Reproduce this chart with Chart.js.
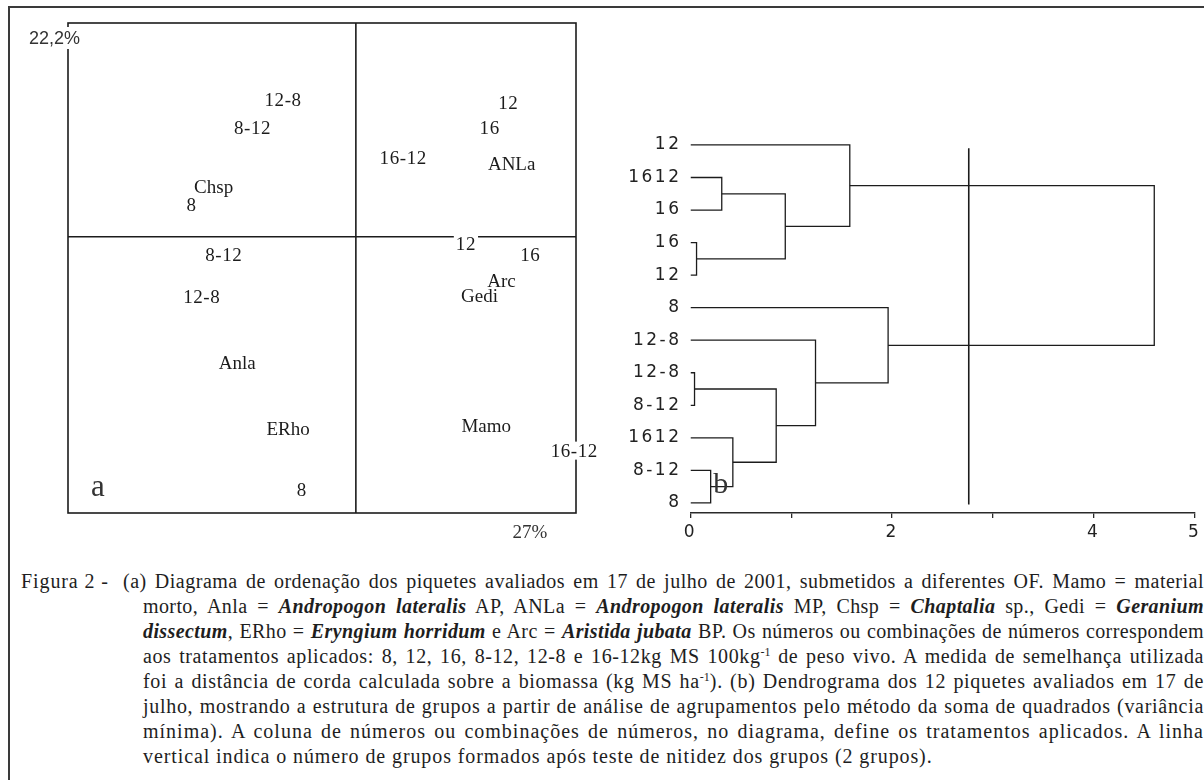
<!DOCTYPE html>
<html>
<head>
<meta charset="utf-8">
<title>Figura 2</title>
<script src="https://cdn.jsdelivr.net/npm/chart.js@4.4.1/dist/chart.umd.min.js"></script>
<style>
	html, body { margin: 0; padding: 0; background: #fff; }
	body { width: 1204px; height: 780px; overflow: hidden; position: relative; }
	#frame { position: absolute; left: 8px; top: 6px; width: 1400px; height: 1000px; border-top: 2px solid #3a3a3a; border-left: 2px solid #3a3a3a; }
	#ordination { position: absolute; left: 0; top: 0; }
	#dendrogram { position: absolute; left: 600px; top: 100px; }
	#caption { position: absolute; left: 21px; top: 569px; width: 1183px; font-family: 'Liberation Serif', 'Times New Roman', serif; font-size: 20px; line-height: 25px; color: #1e1e1e; }
	#caption .l { white-space: nowrap; text-align: justify; text-align-last: justify; padding-left: 122px; overflow: hidden; }
	#caption .first { padding-left: 102px; position: relative; }
	#caption .last { text-align-last: left; }
	#caption .lead { position: absolute; left: 0; letter-spacing: 0.9px; }
	#caption sup { font-size: 12px; line-height: 0; vertical-align: 7px; letter-spacing: 0; }
</style>
</head>
<body>
<div id="frame"></div>
<canvas id="ordination" width="620" height="560"></canvas>
<canvas id="dendrogram" width="604" height="460"></canvas>
<div id="caption">
	<div class="l first" data-spacing="0.5"><span class="lead">Figura 2 - </span>(a) Diagrama de ordenação dos piquetes avaliados em 17 de julho de 2001, submetidos a diferentes OF. Mamo = material</div>
	<div class="l" data-spacing="0.4">morto, Anla = <b><i>Andropogon lateralis</i></b> AP, ANLa = <b><i>Andropogon lateralis</i></b> MP, Chsp = <b><i>Chaptalia</i></b> sp., Gedi = <b><i>Geranium</i></b></div>
	<div class="l" data-spacing="0.4"><b><i>dissectum</i></b>, ERho = <b><i>Eryngium horridum</i></b> e Arc = <b><i>Aristida jubata</i></b> BP. Os números ou combinações de números correspondem</div>
	<div class="l" data-spacing="0.6">aos tratamentos aplicados: 8, 12, 16, 8-12, 12-8 e 16-12kg MS 100kg<sup>-1</sup> de peso vivo. A medida de semelhança utilizada</div>
	<div class="l" data-spacing="0.7">foi a distância de corda calculada sobre a biomassa (kg MS ha<sup>-1</sup>). (b) Dendrograma dos 12 piquetes avaliados em 17 de</div>
	<div class="l" data-spacing="0.7">julho, mostrando a estrutura de grupos a partir de análise de agrupamentos pelo método da soma de quadrados (variância</div>
	<div class="l" data-spacing="1.0">mínima). A coluna de números ou combinações de números, no diagrama, define os tratamentos aplicados. A linha</div>
	<div class="l last" data-spacing="0.9">vertical indica o número de grupos formados após teste de nitidez dos grupos (2 grupos).</div>
</div>
<script>
//                                           //
// - - - - - Panel a: ordination data - - - - - //
//                                           //

const sampleLabels = ['12-8', '8-12', '8', '8-12', '12-8', '8', '12', '16', '16-12', '12', '16', '16-12'];
const sampleX = [-0.43, -0.61, -0.97, -0.78, -0.91, -0.32, 0.90, 0.79, 0.28, 0.65, 1.03, 1.29];
const sampleY = [0.77, 0.61, 0.18, -0.10, -0.34, -1.42, 0.75, 0.61, 0.44, -0.04, -0.10, -1.20];

const speciesLabels = ['Chsp', 'Anla', 'ERho', 'ANLa', 'Gedi', 'Arc', 'Mamo'];
const speciesX = [-0.84, -0.70, -0.40, 0.92, 0.73, 0.86, 0.77];
const speciesY = [0.28, -0.71, -1.08, 0.41, -0.33, -0.25, -1.06];

const axisLabels = ['27%', '22,2%'];

//                                             //
// - - - - - Panel b: dendrogram data - - - - - //
//                                             //

const leafLabels = ['12', '1612', '16', '16', '12', '8', '12-8', '12-8', '8-12', '1612', '8-12', '8'];
// each merge joins two nodes (leaves 0-11, then merges 12, 13, ...)
const mergeLeft = [7, 3, 10, 1, 9, 12, 15, 6, 0, 5, 20];
const mergeRight = [8, 4, 11, 2, 14, 16, 13, 17, 18, 19, 21];
const mergeHeight = [0.04, 0.06, 0.20, 0.31, 0.42, 0.85, 0.94, 1.24, 1.58, 1.96, 4.60];
const cutHeight = 2.76;
const cutSpan = [1.1, 12.05];
const distanceTicks = [0, 1, 2, 3, 4, 5];
const distanceLabels = ['0', '', '2', '', '4', '5'];

const ink = '#1c1c1c';

// - - - - - caption: stretch letters a little, but never past the edge - - - - - //

function fitCaption() {
	document.querySelectorAll('#caption .l').forEach((line) => {
		let s = parseFloat(line.dataset.spacing);
		line.style.letterSpacing = s + 'px';
		while (s > -0.4 && line.scrollWidth > line.clientWidth) {
			s -= 0.05;
			line.style.letterSpacing = s.toFixed(2) + 'px';
		}
	});
}
fitCaption();
if (document.fonts) document.fonts.ready.then(fitCaption);

// - - - - - plugins - - - - - //

const pointText = {
	id: 'pointText',
	afterDatasetsDraw(chart) {
		const ctx = chart.ctx;
		chart.data.datasets.forEach((ds, i) => {
			if (!ds.texts) return;
			const meta = chart.getDatasetMeta(i);
			ctx.save();
			ctx.font = ds.textFont;
			ctx.letterSpacing = ds.textSpacing;
			ctx.textAlign = 'center';
			ctx.textBaseline = 'middle';
			meta.data.forEach((pt, j) => {
				const w = ctx.measureText(ds.texts[j]).width;
				ctx.fillStyle = '#fff';
				ctx.fillRect(pt.x - w / 2 - 2, pt.y - ds.textBox / 2, w + 4, ds.textBox);
				ctx.fillStyle = ink;
				ctx.fillText(ds.texts[j], pt.x, pt.y + 1);
			});
			ctx.restore();
		});
	}
};

const quadrants = {
	id: 'quadrants',
	beforeDatasetsDraw(chart) {
		const { ctx, chartArea: a, scales: { x, y } } = chart;
		const x0 = x.getPixelForValue(0);
		const y0 = y.getPixelForValue(0);
		ctx.save();
		ctx.strokeStyle = ink;
		ctx.lineWidth = 1.6;
		ctx.strokeRect(a.left, a.top, a.width, a.height);
		ctx.beginPath();
		ctx.moveTo(x0, a.top);
		ctx.lineTo(x0, a.bottom);
		ctx.moveTo(a.left, y0);
		ctx.lineTo(a.right, y0);
		ctx.stroke();

		ctx.textBaseline = 'middle';
		ctx.font = '18px "Liberation Sans"';
		ctx.textAlign = 'right';
		const w = ctx.measureText(axisLabels[1]).width;
		ctx.fillStyle = '#fff';
		ctx.fillRect(a.left + 13 - w, a.top + 4, w, 22);
		ctx.fillStyle = '#333';
		ctx.fillText(axisLabels[1], a.left + 12, a.top + 16);

		ctx.font = '19px "Liberation Serif"';
		ctx.textAlign = 'center';
		ctx.fillText(axisLabels[0], a.right - 46, a.bottom + 20);

		ctx.font = '31px "Liberation Serif"';
		ctx.fillText('a', a.left + 30, a.bottom - 25);
		ctx.restore();
	}
};

const wideText = {
	id: 'wideText',
	beforeDraw(chart) { chart.ctx.letterSpacing = '2.5px'; },
	afterDatasetsDraw(chart) {
		const { ctx, scales: { x, y } } = chart;
		ctx.save();
		ctx.letterSpacing = '0px';
		ctx.font = '30px "Liberation Serif"';
		ctx.fillStyle = '#333';
		ctx.textAlign = 'center';
		ctx.textBaseline = 'middle';
		ctx.fillText('b', x.getPixelForValue(0.3), y.getPixelForValue(11.45));
		ctx.restore();
	},
	afterDraw(chart) { chart.ctx.letterSpacing = '0px'; }
};

// - - - - - Panel a chart - - - - - //

const toPoints = (xs, ys) => xs.map((v, i) => ({ x: v, y: ys[i] }));

new Chart(document.getElementById('ordination'), {
	type    : 'scatter',
	data    : {
		datasets : [
			{
				label       : 'Piquetes',
				data        : toPoints(sampleX, sampleY),
				texts       : sampleLabels,
				textFont    : '19px "Liberation Serif"',
				textSpacing : '0.6px',
				textBox     : 18,
				pointRadius : 0
			},
			{
				label       : 'Espécies',
				data        : toPoints(speciesX, speciesY),
				texts       : speciesLabels,
				textFont    : '19px "Liberation Serif"',
				textSpacing : '0px',
				textBox     : 15,
				pointRadius : 0
			}
		]
	},
	options : {
		responsive : false,
		animation  : false,
		events     : [],
		layout     : { padding: { left: 68, top: 23, right: 44, bottom: 47 } },
		scales     : {
			x : { type: 'linear', min: -1.7, max: 1.3, display: false },
			y : { type: 'linear', min: -1.55, max: 1.2, display: false }
		},
		plugins    : { legend: { display: false }, tooltip: { enabled: false } }
	},
	plugins : [quadrants, pointText]
});

// - - - - - Panel b chart - - - - - //

const nodeX = leafLabels.map(() => 0);
const nodeY = leafLabels.map((_, i) => i + 1);
const linkStyle = { showLine: true, pointRadius: 0, borderColor: ink, borderWidth: 1.3, tension: 0, fill: false };

const links = mergeHeight.map((h, k) => {
	const a = mergeLeft[k];
	const b = mergeRight[k];
	nodeX.push(h);
	nodeY.push((nodeY[a] + nodeY[b]) / 2);
	return Object.assign({
		label : 'fusão ' + (k + 1),
		data  : [
			{ x: nodeX[a], y: nodeY[a] },
			{ x: h, y: nodeY[a] },
			{ x: h, y: nodeY[b] },
			{ x: nodeX[b], y: nodeY[b] }
		]
	}, linkStyle);
});

links.push(Object.assign({
	label : 'corte',
	data  : [{ x: cutHeight, y: cutSpan[0] }, { x: cutHeight, y: cutSpan[1] }]
}, linkStyle, { borderWidth: 1.6 }));

const leafFont = { family: 'DejaVu Sans', size: 17 };

new Chart(document.getElementById('dendrogram'), {
	type    : 'scatter',
	data    : { datasets: links },
	options : {
		responsive : false,
		animation  : false,
		events     : [],
		layout     : { padding: { left: 0, top: 28.7, right: 9, bottom: 0 } },
		scales     : {
			x : {
				type : 'linear',
				min  : 0,
				max  : 5,
				afterBuildTicks : (s) => { s.ticks = distanceTicks.map((v) => ({ value: v })); },
				afterFit : (s) => { s.height = 47; },
				grid   : { drawOnChartArea: false, drawTicks: true, tickLength: 5, color: '#2a2a2a', lineWidth: 1.3 },
				border : { display: true, color: '#2a2a2a', width: 1.5 },
				ticks  : { callback: (v, i) => distanceLabels[i], padding: 4, color: '#222', font: leafFont, maxRotation: 0, autoSkip: false }
			},
			y : {
				type    : 'linear',
				reverse : true,
				min     : 0.5,
				max     : 12.31,
				afterBuildTicks : (s) => { s.ticks = leafLabels.map((_, i) => ({ value: i + 1 })); },
				afterFit : (s) => { s.width = 90.5; },
				grid   : { display: false, drawTicks: false },
				border : { display: false },
				ticks  : { callback: (v) => leafLabels[v - 1], padding: 9, color: '#222', font: leafFont, autoSkip: false }
			}
		},
		plugins    : { legend: { display: false }, tooltip: { enabled: false } }
	},
	plugins : [wideText]
});
</script>
</body>
</html>
